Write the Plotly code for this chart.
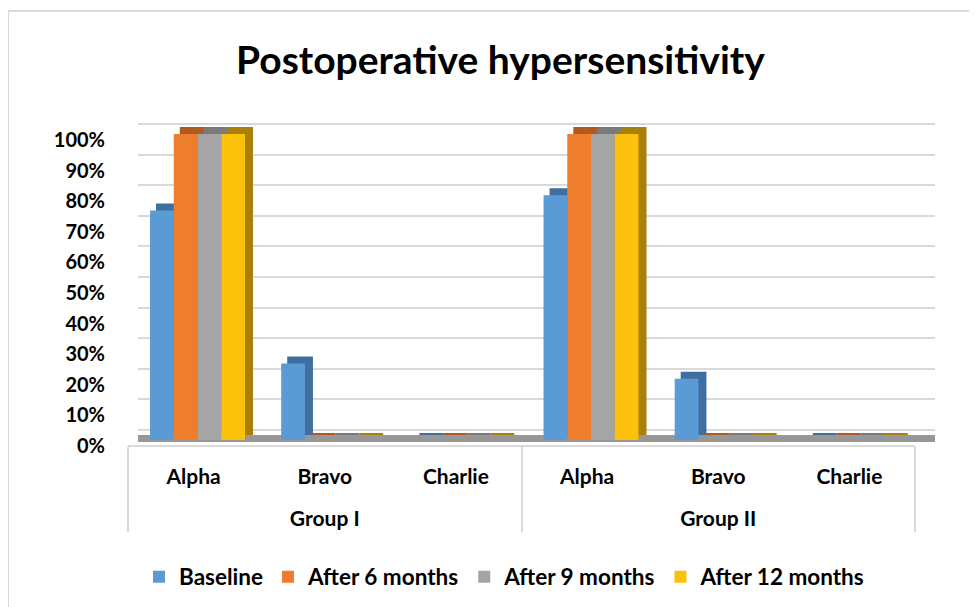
import plotly.graph_objects as go

groups = ["Group I", "Group I", "Group I", "Group II", "Group II", "Group II"]
grades = ["Alpha", "Bravo", "Charlie", "Alpha", "Bravo", "Charlie"]
series_names = ["Baseline", "After 6 months", "After 9 months", "After 12 months"]
baseline = [75, 25, 0, 80, 20, 0]
after_6 = [100, 0, 0, 100, 0, 0]
after_9 = [100, 0, 0, 100, 0, 0]
after_12 = [100, 0, 0, 100, 0, 0]
y_ticks = [0, 10, 20, 30, 40, 50, 60, 70, 80, 90, 100]

series_values = [baseline, after_6, after_9, after_12]
front_colors = ["#5B9BD5", "#EF7D2E", "#A5A5A5", "#FCC10A"]
side_colors = ["#3F6F9E", "#B05A1F", "#7A7A7A", "#A8800A"]

W, H = 977, 607
PAGE_OFF = 8  # default body margin of the html page
FONT = "Lato"


def fx(p):
    return (p - PAGE_OFF) / W


def fy(p):
    return 1 - (p - PAGE_OFF) / H


scale = 3.06  # px per percent
front_bottom, front_zero, front_top = 445, 440, 120
ymin = -(front_bottom - front_zero) / scale
ymax = ymin + (front_bottom - front_top) / scale
yrange = [ymin, ymax]

bar_w = 0.181
start = -0.332

# display labels (extra blank line under the sub-category to space the group row)
sub_labels = [g + "<br>\u00a0" for g in grades]
xcats = [groups, sub_labels]

fig = go.Figure()

# back wall (subplot 1) - invisible anchor trace
fig.add_trace(go.Scatter(x=[0.5], y=[0], mode="markers", marker=dict(opacity=0),
                         showlegend=False, hoverinfo="skip", xaxis="x", yaxis="y"))

# extrusion (side / top faces) subplot 2
for i, (name, vals) in enumerate(zip(series_names, series_values)):
    fig.add_trace(go.Bar(x=xcats, y=vals, name=name, showlegend=False,
                         marker=dict(color=side_colors[i],
                                     line=dict(width=2, color=side_colors[i])),
                         width=bar_w, offset=start + i * bar_w,
                         xaxis="x2", yaxis="y2", hoverinfo="skip"))

# front faces subplot 3
for i, (name, vals) in enumerate(zip(series_names, series_values)):
    fig.add_trace(go.Bar(x=xcats, y=vals, name=name,
                         marker=dict(color=front_colors[i], line=dict(width=0)),
                         width=bar_w, offset=start + i * bar_w,
                         xaxis="x3", yaxis="y3"))

grid_col = "#D9D9D9"
label_font = dict(family=FONT, size=21, color="black", weight="bold")

fig.update_layout(
    width=W, height=H,
    margin=dict(l=0, r=0, t=0, b=0, autoexpand=False),
    paper_bgcolor="white", plot_bgcolor="rgba(0,0,0,0)",
    barmode="overlay",
    font=dict(family=FONT, color="black"),
    title=dict(text="<b>Postoperative hypersensitivity</b>", x=fx(500.5), xanchor="center",
               y=fy(60), yanchor="middle", yref="paper",
               font=dict(family=FONT, size=39, color="black")),
    # back wall
    xaxis=dict(domain=[fx(138), fx(935)], range=[0, 1], visible=True, showgrid=False,
               showticklabels=False, ticks="", zeroline=False, showline=True,
               linecolor="#979797", linewidth=7, anchor="y", fixedrange=True),
    yaxis=dict(domain=[fy(435), fy(110)], range=yrange, showgrid=True, gridcolor=grid_col,
               gridwidth=2, tickvals=y_ticks, showticklabels=False, ticks="",
               zeroline=False, showline=False, anchor="x", fixedrange=True),
    # extrusion
    xaxis2=dict(domain=[fx(135), fx(922)], type="multicategory", visible=False,
                anchor="y2", fixedrange=True),
    yaxis2=dict(domain=[fy(439), fy(114)], range=yrange, visible=False,
                anchor="x2", fixedrange=True),
    # front
    xaxis3=dict(domain=[fx(128), fx(915)], type="multicategory", anchor="y3",
                showline=True, linecolor=grid_col, linewidth=2, showgrid=False,
                ticks="", showdividers=True, dividercolor=grid_col, dividerwidth=2,
                ticklabelstandoff=12,
                tickfont=label_font, fixedrange=True),
    yaxis3=dict(domain=[fy(front_bottom), fy(front_top)], range=yrange, anchor="x3",
                tickvals=y_ticks, ticktext=[f"{v}%" for v in y_ticks],
                showgrid=False, zeroline=False, showline=False, ticks="",
                ticklabelstandoff=22, ticklabelshift=6,
                tickfont=dict(family=FONT, size=20, color="black", weight="bold"),
                fixedrange=True),
    legend=dict(orientation="h", x=fx(504.5), xanchor="center", y=fy(577), yanchor="middle",
                font=dict(family=FONT, size=22.5, color="black", weight="bold"),
                bgcolor="rgba(0,0,0,0)", traceorder="normal"),
    shapes=[dict(type="rect", xref="paper", yref="paper", x0=fx(8), x1=1.05,
                 y0=fy(11), y1=-0.05, line=dict(color=grid_col, width=2),
                 fillcolor="rgba(0,0,0,0)", layer="below")],
)

fig.write_html("out.html")
